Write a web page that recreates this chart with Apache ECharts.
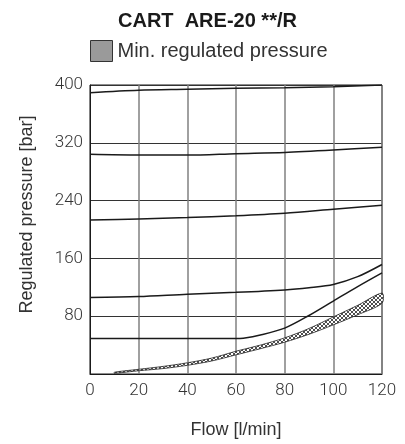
<!DOCTYPE html>
<html><head><meta charset="utf-8">
<script src="https://cdn.jsdelivr.net/npm/echarts@6/dist/echarts.min.js"></script>
<style>html,body{margin:0;padding:0;background:#fff}#c{width:405px;height:444px}</style>
</head><body><div id="c"></div>
<script>
// Data
const titleText = 'CART  ARE-20 **/R';
const legendName = 'Min. regulated pressure';
const xTicks = [0, 20, 40, 60, 80, 100, 120];
const yTicks = [0, 80, 160, 240, 320, 400];
const curve1 = [[0,49],[20,49],[40,49],[60,49],[63,49.6],[70,54],[80,63.5],[90,81],[100,101],[110,121],[120,140]];
const curve2 = [[0,106],[20,107.3],[40,110.5],[60,113],[80,116.4],[90,119.5],[100,124],[110,134.7],[120,151.6]];
const curve3 = [[0,213],[20,214.7],[40,216.5],[60,219],[80,222.5],[100,228],[120,233.5]];
const curve4 = [[0,304],[20,303],[40,303],[60,305],[80,306.7],[100,310],[120,314]];
const curve5 = [[0,389.4],[20,392.7],[40,394],[60,395.4],[80,396.3],[100,397.7],[120,400]];
const bandX = [10, 20, 30, 40, 50, 60, 70, 80, 90, 100, 110, 120];
const bandLow = [1, 4.5, 7.5, 12, 18, 26.5, 35, 44, 55, 68, 82, 98];
const bandHigh = [2.5, 6.5, 10.5, 15.5, 22, 31.5, 40, 50, 63, 79, 95, 112];

// pattern for hatched band
const pc = document.createElement('canvas');
pc.width = 4; pc.height = 4;
const g = pc.getContext('2d');
g.fillStyle = '#fff'; g.fillRect(0,0,4,4);
g.strokeStyle = '#222'; g.lineWidth = 0.8;
g.beginPath(); g.moveTo(0,0); g.lineTo(4,4); g.moveTo(4,0); g.lineTo(0,4); g.stroke();

const chart = echarts.init(document.getElementById('c'), null, {renderer: 'canvas'});
const curveStyle = {type: 'line', smooth: 0.3, symbol: 'none', silent: true,
  lineStyle: {color: '#1a1a1a', width: 1.5}};
chart.setOption({
  animation: false,
  title: {text: titleText, left: 113, top: 6,
    textStyle: {fontFamily: 'Liberation Sans', fontWeight: 'bold', fontSize: 20, color: '#1a1a1a'}},
  legend: {left: 85, top: 35, itemWidth: 22, itemHeight: 21, selectedMode: false,
    textStyle: {fontFamily: 'Liberation Sans', fontSize: 20, color: '#333'},
    data: [{name: legendName, icon: 'rect',
      itemStyle: {color: '#9a9a9a', borderColor: '#333', borderWidth: 1}}]},
  grid: {left: 90, right: 23, top: 85, bottom: 67.5, show: true, borderColor: '#1a1a1a', borderWidth: 1},
  xAxis: {type: 'value', min: 0, max: 120, interval: 20,
    name: 'Flow [l/min]', nameLocation: 'middle', nameGap: 47,
    nameTextStyle: {fontFamily: 'Liberation Sans', fontSize: 18, color: '#333'},
    axisLine: {lineStyle: {color: '#1a1a1a', width: 1}},
    axisTick: {show: false},
    axisLabel: {margin: 8, fontFamily: 'Roboto', fontWeight: 300, fontSize: 17, color: '#333',
      formatter: v => xTicks.includes(v) ? String(v) : ''},
    splitLine: {lineStyle: {color: '#808080', width: 1.5}}},
  yAxis: {type: 'value', min: 0, max: 400, interval: 80,
    name: 'Regulated pressure [bar]', nameLocation: 'middle', nameGap: 54,
    nameTextStyle: {fontFamily: 'Liberation Sans', fontSize: 18, color: '#333', padding: [0,0,0,30]},
    axisLine: {show: true, lineStyle: {color: '#1a1a1a', width: 1}},
    axisTick: {show: false},
    axisLabel: {margin: 7, showMinLabel: false, fontFamily: 'Roboto', fontWeight: 300, fontSize: 17, color: '#333',
      formatter: v => yTicks.includes(v) ? String(v) : ''},
    splitLine: {lineStyle: {color: '#333', width: 1}}},
  series: [
    {name: legendName, type: 'custom', silent: true, z: 3,
      itemStyle: {color: '#9a9a9a'},
      data: [0],
      renderItem: function (params, api) {
        const pts = [];
        for (let i = 0; i < bandX.length; i++) pts.push(api.coord([bandX[i], bandHigh[i]]));
        for (let i = bandX.length - 1; i >= 0; i--) pts.push(api.coord([bandX[i], bandLow[i]]));
        return {type: 'polygon', shape: {points: pts, smooth: 0.3},
          style: {fill: {image: pc, repeat: 'repeat'}, stroke: '#222', lineWidth: 0.8}};
      }},
    Object.assign({name: 'c1', data: curve1}, curveStyle),
    Object.assign({name: 'c2', data: curve2}, curveStyle),
    Object.assign({name: 'c3', data: curve3}, curveStyle),
    Object.assign({name: 'c4', data: curve4}, curveStyle),
    Object.assign({name: 'c5', data: curve5}, curveStyle)
  ]
});
</script></body></html>
